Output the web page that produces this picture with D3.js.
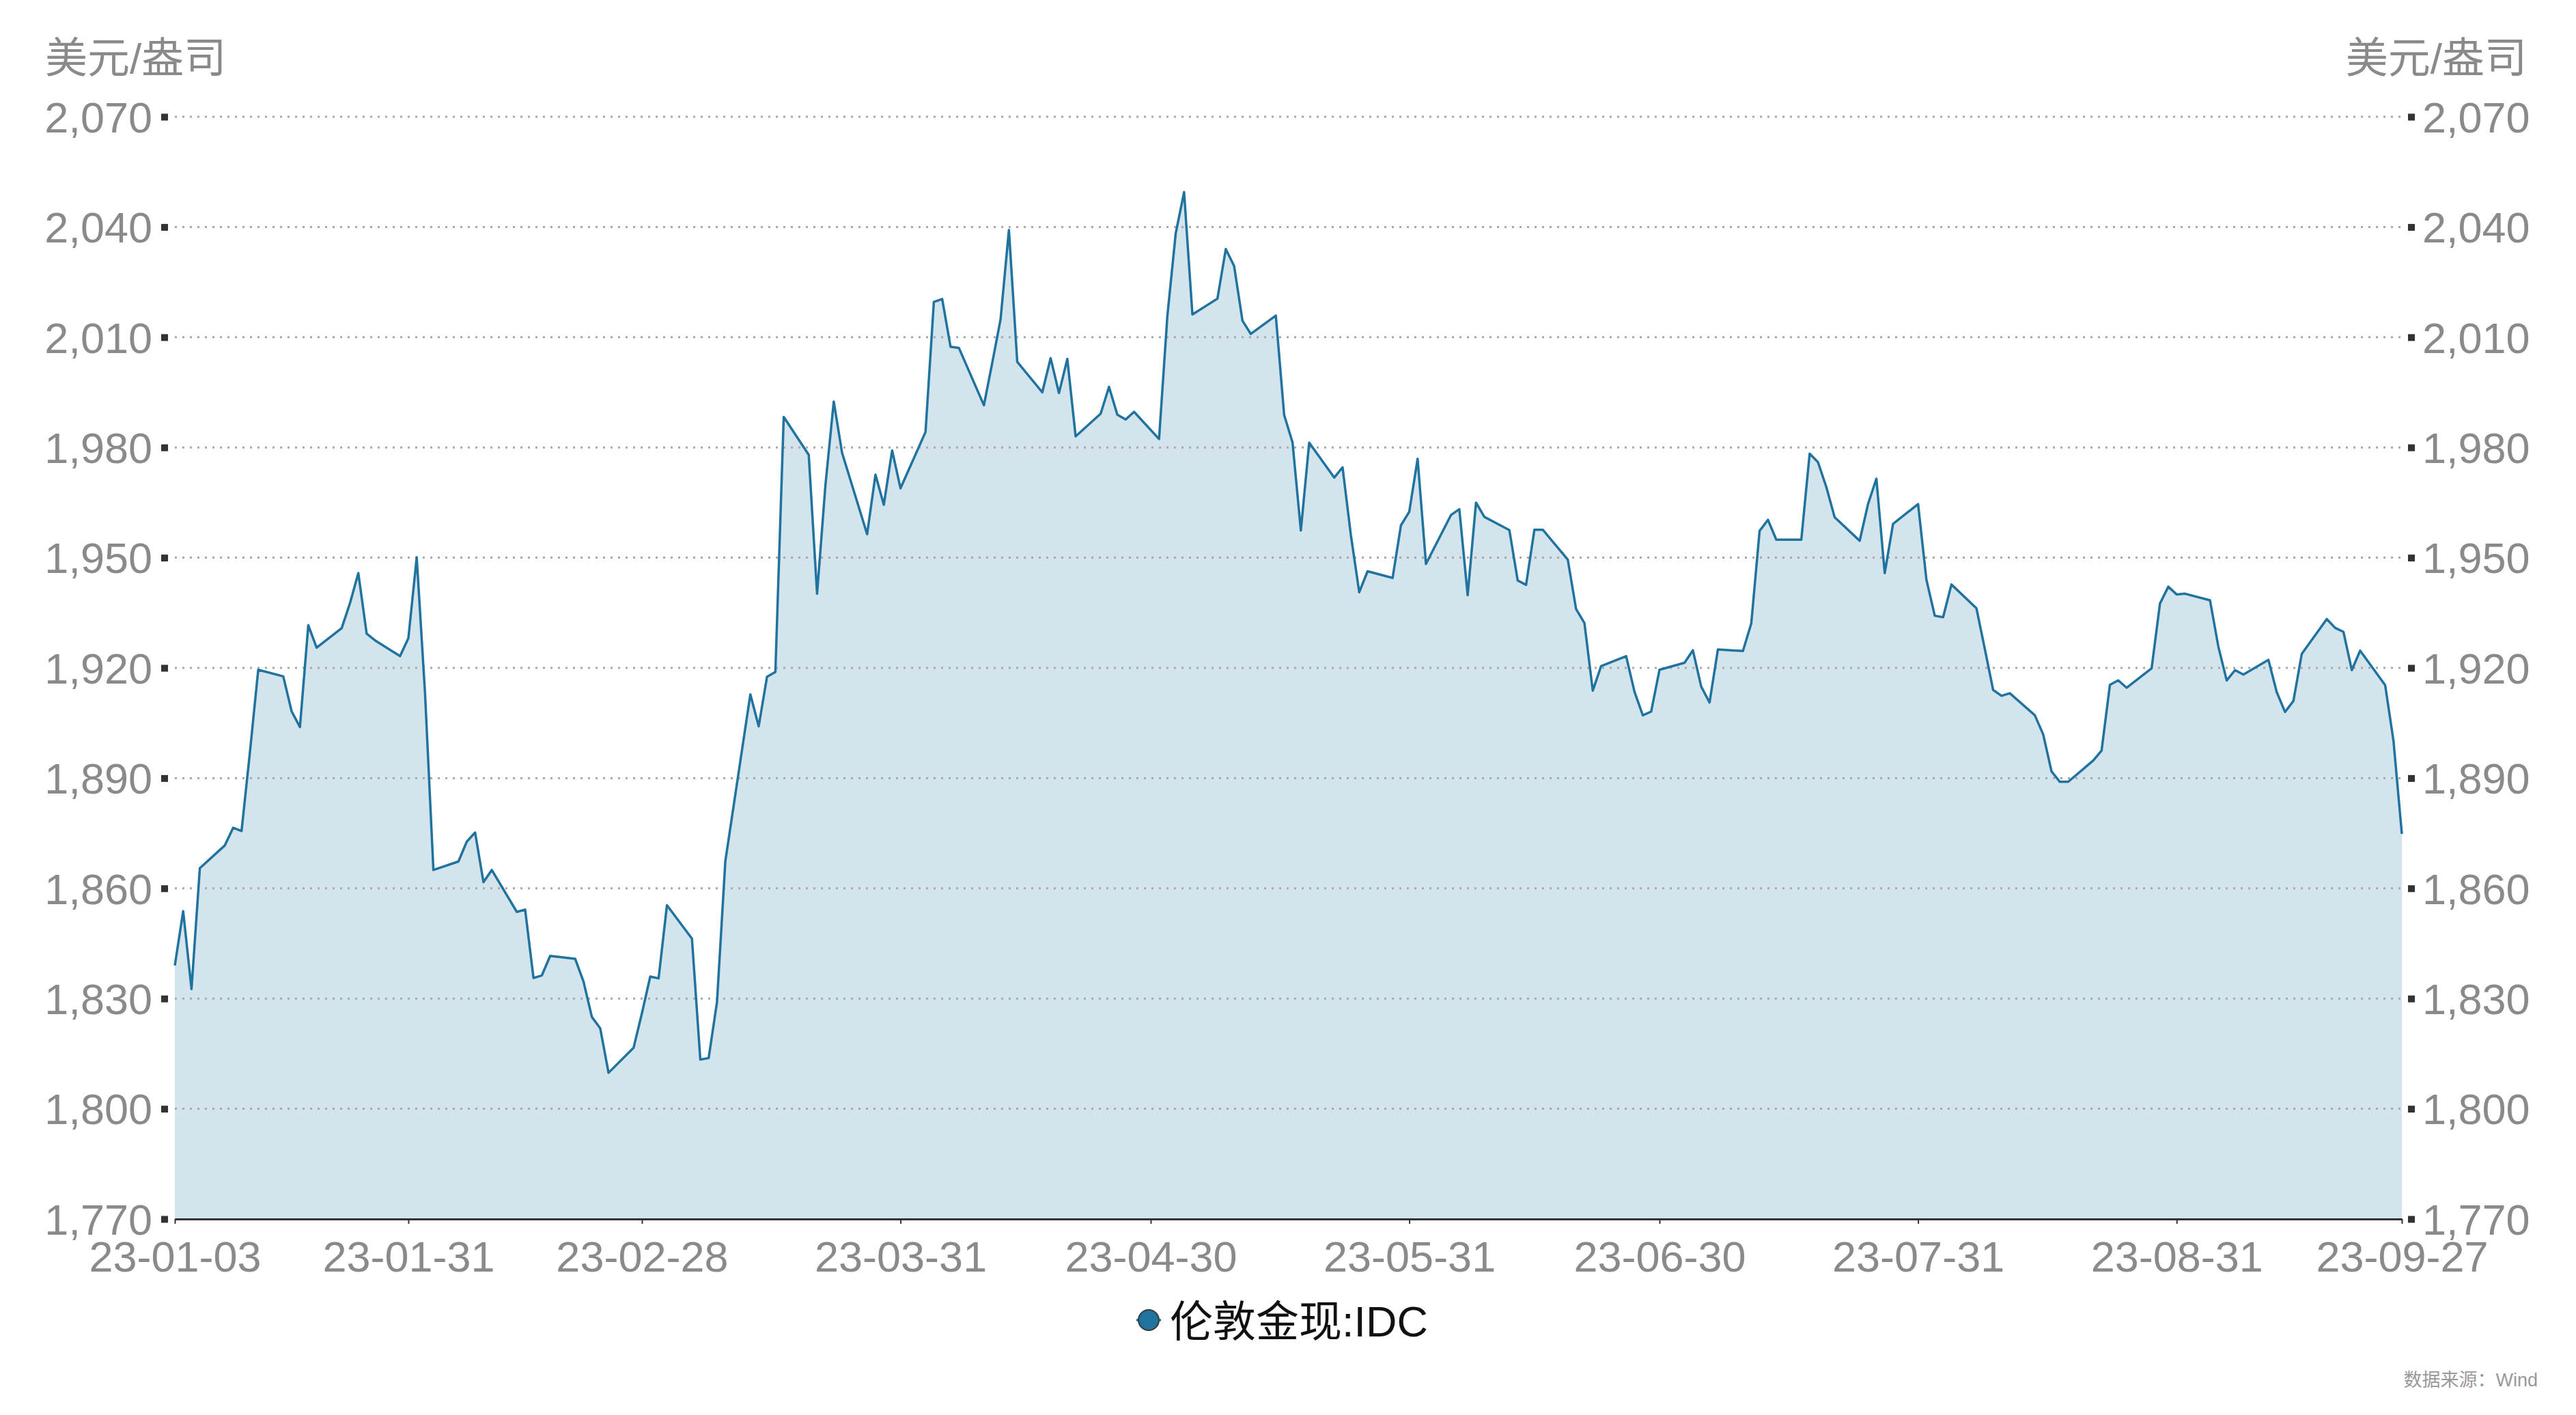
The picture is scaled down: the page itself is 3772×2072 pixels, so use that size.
<!DOCTYPE html>
<html>
<head>
<meta charset="utf-8">
<script src="https://cdn.jsdelivr.net/npm/d3@7"></script>
<style>
    body { margin: 0; background: #fff; }
    svg text { font-family: "Liberation Sans", Arial, "Noto Sans CJK SC", sans-serif; }
</style>
</head>
<body>
<div id="chart"></div>
<script>
// London gold spot (IDC), trading days 2023-01-03 .. 2023-09-27
const tradeDates = [
    '2023-01-03','2023-01-04','2023-01-05','2023-01-06','2023-01-09','2023-01-10','2023-01-11','2023-01-12','2023-01-13',
    '2023-01-16','2023-01-17','2023-01-18','2023-01-19','2023-01-20','2023-01-23','2023-01-24','2023-01-25','2023-01-26',
    '2023-01-27','2023-01-30','2023-01-31',
    '2023-02-01','2023-02-02','2023-02-03','2023-02-06','2023-02-07','2023-02-08','2023-02-09','2023-02-10','2023-02-13',
    '2023-02-14','2023-02-15','2023-02-16','2023-02-17','2023-02-20','2023-02-21','2023-02-22','2023-02-23','2023-02-24',
    '2023-02-27','2023-02-28',
    '2023-03-01','2023-03-02','2023-03-03','2023-03-06','2023-03-07','2023-03-08','2023-03-09','2023-03-10','2023-03-13',
    '2023-03-14','2023-03-15','2023-03-16','2023-03-17','2023-03-20','2023-03-21','2023-03-22','2023-03-23','2023-03-24',
    '2023-03-27','2023-03-28','2023-03-29','2023-03-30','2023-03-31',
    '2023-04-03','2023-04-04','2023-04-05','2023-04-06','2023-04-07','2023-04-10','2023-04-11','2023-04-12','2023-04-13',
    '2023-04-14','2023-04-17','2023-04-18','2023-04-19','2023-04-20','2023-04-21','2023-04-24','2023-04-25','2023-04-26',
    '2023-04-27','2023-04-28',
    '2023-05-01','2023-05-02','2023-05-03','2023-05-04','2023-05-05','2023-05-08','2023-05-09','2023-05-10','2023-05-11',
    '2023-05-12','2023-05-15','2023-05-16','2023-05-17','2023-05-18','2023-05-19','2023-05-22','2023-05-23','2023-05-24',
    '2023-05-25','2023-05-26','2023-05-29','2023-05-30','2023-05-31',
    '2023-06-01','2023-06-02','2023-06-05','2023-06-06','2023-06-07','2023-06-08','2023-06-09','2023-06-12','2023-06-13',
    '2023-06-14','2023-06-15','2023-06-16','2023-06-19','2023-06-20','2023-06-21','2023-06-22','2023-06-23','2023-06-26',
    '2023-06-27','2023-06-28','2023-06-29','2023-06-30',
    '2023-07-03','2023-07-04','2023-07-05','2023-07-06','2023-07-07','2023-07-10','2023-07-11','2023-07-12','2023-07-13',
    '2023-07-14','2023-07-17','2023-07-18','2023-07-19','2023-07-20','2023-07-21','2023-07-24','2023-07-25','2023-07-26',
    '2023-07-27','2023-07-28','2023-07-31',
    '2023-08-01','2023-08-02','2023-08-03','2023-08-04','2023-08-07','2023-08-08','2023-08-09','2023-08-10','2023-08-11',
    '2023-08-14','2023-08-15','2023-08-16','2023-08-17','2023-08-18','2023-08-21','2023-08-22','2023-08-23','2023-08-24',
    '2023-08-25','2023-08-28','2023-08-29','2023-08-30','2023-08-31',
    '2023-09-01','2023-09-04','2023-09-05','2023-09-06','2023-09-07','2023-09-08','2023-09-11','2023-09-12','2023-09-13',
    '2023-09-14','2023-09-15','2023-09-18','2023-09-19','2023-09-20','2023-09-21','2023-09-22','2023-09-25','2023-09-26',
    '2023-09-27'
];

const goldPrice = [
    1839, 1853.8, 1832.6, 1865.5, 1871.7, 1876.5, 1875.6, 1897, 1919.5,
    1917.7, 1908.2, 1903.9, 1931.6, 1925.5, 1930.8, 1937.6, 1945.8, 1929.3,
    1927.5, 1923.2, 1928.1,
    1950.1, 1913, 1865, 1867.3, 1872.7, 1875.2, 1861.7, 1865, 1853.6,
    1854.2, 1835.6, 1836.3, 1841.6, 1840.8, 1834.6, 1825, 1821.9, 1809.8,
    1816.6, 1826,
    1836, 1835.5, 1855.4, 1846.3, 1813.4, 1813.8, 1829, 1867.4, 1912.8,
    1904.1, 1917.6, 1918.9, 1988.3, 1978, 1940.2, 1969.7, 1992.5, 1978.5,
    1956.4, 1972.6, 1964.4, 1979.2, 1968.9,
    1984.2, 2019.6, 2020.4, 2007.4, 2007.1, 1991.5, 2003, 2014.9, 2039.2,
    2003.3, 1995, 2004.3, 1994.8, 2004.1, 1983, 1989.2, 1996.5, 1988.9,
    1987.6, 1989.7,
    1982.3, 2015.9, 2038.3, 2049.5, 2016.2, 2020.5, 2034, 2029.4, 2014.5,
    2010.9, 2015.9, 1988.8, 1981.4, 1957.4, 1981.3, 1971.8, 1974.6, 1956.1,
    1940.6, 1946.3, 1944.5, 1958.8, 1962.5,
    1976.9, 1948.3, 1961.6, 1963.2, 1939.8, 1965, 1961.1, 1957.5, 1943.8,
    1942.6, 1957.6, 1957.6, 1949.5, 1936, 1932.2, 1913.8, 1920.5, 1923.2,
    1913.5, 1907.1, 1908.1, 1919.5,
    1921.4, 1924.8, 1914.9, 1910.6, 1925, 1924.6, 1932.1, 1957.3, 1960.3,
    1954.9, 1954.9, 1978.3, 1976, 1969.2, 1961, 1954.6, 1964.6, 1971.5,
    1945.8, 1959.2, 1964.6,
    1944, 1934.2, 1933.8, 1942.7, 1936.2, 1925.2, 1914, 1912.4, 1913.1,
    1907.1, 1901.9, 1891.8, 1889, 1889, 1894.8, 1897.5, 1915.4, 1916.6,
    1914.6, 1919.9, 1937.5, 1942.1, 1940,
    1940.2, 1938.4, 1925.8, 1916.6, 1919.4, 1918.2, 1922.2, 1913.4, 1908,
    1911, 1923.8, 1933.3, 1930.9, 1929.8, 1919.4, 1924.7, 1915.3, 1900.1,
    1874.8
];

const yTicks = [1770, 1800, 1830, 1860, 1890, 1920, 1950, 1980, 2010, 2040, 2070];
const xTickDates = ['2023-01-03', '2023-01-31', '2023-02-28', '2023-03-31', '2023-04-30',
    '2023-05-31', '2023-06-30', '2023-07-31', '2023-08-31', '2023-09-27'];

const unitLabel = '美元/盎司';
const seriesName = '伦敦金现:IDC';
const sourceNote = '数据来源：Wind';

const W = 3772, H = 2072;
const margin = { top: 171, right: 255, bottom: 287, left: 256 };
const width = W - margin.left - margin.right;
const height = H - margin.top - margin.bottom;

const lineColor = '#21739f';
const fillColor = '#d3e4ed';
const labelColor = '#8a8a8a';

const parseDate = d3.timeParse('%Y-%m-%d');
const data = tradeDates.map((d, i) => ({ date: parseDate(d), value: goldPrice[i] }));

const svg = d3.select('#chart')
    .append('svg')
    .attr('width', W)
    .attr('height', H);

svg.append('rect').attr('width', W).attr('height', H).attr('fill', '#fff');

const chart = svg.append('g')
    .attr('transform', `translate(${margin.left},${margin.top})`);

const xScale = d3.scaleTime()
    .domain([parseDate(tradeDates[0]), parseDate(tradeDates[tradeDates.length - 1])])
    .range([0, width]);

const yScale = d3.scaleLinear()
    .domain([yTicks[0], yTicks[yTicks.length - 1]])
    .range([height, 0]);

// area under the line
const area = d3.area()
    .x(d => xScale(d.date))
    .y0(height)
    .y1(d => yScale(d.value));

chart.append('path')
    .datum(data)
    .attr('d', area)
    .attr('fill', fillColor);

// dotted grid
chart.append('g')
    .attr('class', 'grid')
    .selectAll('line')
    .data(yTicks.slice(1))
    .join('line')
    .attr('x1', 0)
    .attr('x2', width)
    .attr('y1', d => yScale(d))
    .attr('y2', d => yScale(d))
    .attr('stroke', '#a8a8a8')
    .attr('stroke-width', 3)
    .attr('stroke-dasharray', '3,8');

// price line
const line = d3.line()
    .x(d => xScale(d.date))
    .y(d => yScale(d.value));

chart.append('path')
    .datum(data)
    .attr('d', line)
    .attr('fill', 'none')
    .attr('stroke', lineColor)
    .attr('stroke-width', 3.5)
    .attr('stroke-linejoin', 'round');

// left axis
const yAxisLeft = d3.axisLeft(yScale)
    .tickValues(yTicks)
    .tickSize(0)
    .tickPadding(33)
    .tickFormat(d3.format(','));

const leftG = chart.append('g').call(yAxisLeft);
leftG.select('.domain').remove();
leftG.selectAll('.tick').append('rect')
    .attr('x', -20).attr('y', -5).attr('width', 10).attr('height', 10)
    .attr('fill', '#333');

// right axis
const yAxisRight = d3.axisRight(yScale)
    .tickValues(yTicks)
    .tickSize(0)
    .tickPadding(30)
    .tickFormat(d3.format(','));

const rightG = chart.append('g')
    .attr('transform', `translate(${width},0)`)
    .call(yAxisRight);
rightG.select('.domain').remove();
rightG.selectAll('.tick').append('rect')
    .attr('x', 9).attr('y', -5).attr('width', 10).attr('height', 10)
    .attr('fill', '#333');

[leftG, rightG].forEach(g => {
    g.selectAll('text')
        .attr('dy', '0.355em')
        .style('font-size', '63px')
        .style('fill', labelColor)
        .style('font-family', '"Liberation Sans", Arial, sans-serif');
});

// bottom axis
const xAxis = d3.axisBottom(xScale)
    .tickValues(xTickDates.map(parseDate))
    .tickSize(7)
    .tickSizeOuter(0)
    .tickFormat(d3.timeFormat('%y-%m-%d'));

const xG = chart.append('g')
    .attr('transform', `translate(0,${height})`)
    .call(xAxis);
xG.select('.domain').attr('stroke', '#333').attr('stroke-width', 3);
xG.selectAll('.tick line').attr('stroke', '#333').attr('stroke-width', 2);
xG.selectAll('.tick text')
    .attr('y', 77)
    .attr('dy', 0)
    .style('font-size', '63px')
    .style('fill', labelColor)
    .style('font-family', '"Liberation Sans", Arial, sans-serif');

// unit labels
svg.append('text')
    .attr('x', 66)
    .attr('y', 107)
    .text(unitLabel)
    .style('font-size', '62px')
    .style('fill', labelColor);

svg.append('text')
    .attr('x', 3700)
    .attr('y', 107)
    .attr('text-anchor', 'end')
    .text(unitLabel)
    .style('font-size', '62px')
    .style('fill', labelColor);

// legend
const legend = svg.append('g')
    .attr('transform', 'translate(1682,1933)');

legend.append('line')
    .attr('x1', -18).attr('x2', 18)
    .attr('stroke', lineColor)
    .attr('stroke-width', 3.5);

legend.append('circle')
    .attr('r', 15)
    .attr('fill', lineColor)
    .attr('stroke', '#3a3a3a')
    .attr('stroke-width', 2);

legend.append('text')
    .attr('x', 31)
    .attr('y', 24)
    .text(seriesName)
    .style('font-size', '63px')
    .style('fill', '#111');

// source note
svg.append('text')
    .attr('x', 3716)
    .attr('y', 2030)
    .attr('text-anchor', 'end')
    .text(sourceNote)
    .style('font-size', '27px')
    .style('fill', '#999');
</script>
</body>
</html>
